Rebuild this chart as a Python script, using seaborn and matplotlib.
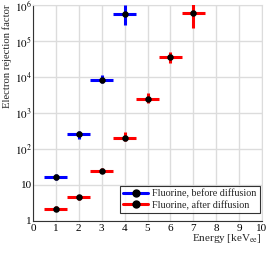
import matplotlib
matplotlib.use("Agg")
import matplotlib.pyplot as plt
import seaborn as sns
import numpy as np
import pandas as pd
from matplotlib.lines import Line2D
from matplotlib.ticker import FixedLocator, LogLocator, NullFormatter, MultipleLocator

# Data
before_energy = [1, 2, 3, 4]
before_value = [17, 255, 8300, 5.6e5]
before_err_low = [3, 60, 1300, 2.9e5]
before_err_high = [3, 65, 3400, 4.4e5]

after_energy = [1, 2, 3, 4, 5, 6, 7]
after_value = [2.15, 4.5, 25, 205, 2450, 35000, 5.9e5]
after_err_low = [0.3, 0.6, 3, 40, 550, 10000, 3.6e5]
after_err_high = [0.4, 0.8, 4, 95, 1050, 16000, 5.5e5]

energy_halfwidth = 0.5
labels = ["Fluorine, before diffusion", "Fluorine, after diffusion"]
colors = ["#0000ff", "#ff0000"]

sns.set_style("white")
plt.rcParams['font.family'] = ['Liberation Serif', 'DejaVu Serif']
plt.rcParams['mathtext.fontset'] = 'stix'

fig = plt.figure(figsize=(2.69, 2.54), dpi=100)
ax = fig.add_axes([33/269, 1 - 221/254, (262 - 33)/269, (221 - 5)/254])

for xs, ys, lo, hi, c in [
    (before_energy, before_value, before_err_low, before_err_high, colors[0]),
    (after_energy, after_value, after_err_low, after_err_high, colors[1]),
]:
    ax.errorbar(xs, ys, xerr=energy_halfwidth, yerr=[lo, hi], fmt='none',
                ecolor=c, elinewidth=2.2, capsize=0, zorder=3)

df = pd.concat([
    pd.DataFrame({"Energy": before_energy, "Value": before_value, "Series": labels[0]}),
    pd.DataFrame({"Energy": after_energy, "Value": after_value, "Series": labels[1]}),
])
sns.scatterplot(data=df, x="Energy", y="Value", color="black", s=22,
                edgecolor="black", linewidth=0, ax=ax, zorder=4, legend=False)

ax.set_yscale("log")
ax.set_xlim(0, 10)
ax.set_ylim(1, 1e6)

ax.set_xticks(range(11))
ax.set_xticklabels([str(i) for i in range(11)])
ax.xaxis.set_minor_locator(MultipleLocator(0.2))
yt = [1, 10, 1e2, 1e3, 1e4, 1e5, 1e6]
ax.yaxis.set_major_locator(FixedLocator(yt))
ax.set_yticklabels(["1", "10", r"$10^2$", r"$10^3$", r"$10^4$", r"$10^5$", r"$10^6$"])
ax.yaxis.set_minor_locator(LogLocator(base=10, subs=np.arange(2, 10), numticks=20))
ax.yaxis.set_minor_formatter(NullFormatter())

ax.tick_params(axis='both', which='major', direction='in', length=5, width=0.8,
               labelsize=8, top=False, right=False, colors='#333333', labelcolor='black')
ax.tick_params(axis='both', which='minor', direction='in', length=2.5, width=0.6,
               top=False, right=False, colors='#333333')
ax.tick_params(axis='x', pad=2)
ax.tick_params(axis='y', pad=1)

ax.grid(True, which='major', color='#dcdcdc', linewidth=1.0)
for s in ax.spines.values():
    s.set_color('#dcdcdc')
ax.spines['left'].set_color('#333333')
ax.spines['bottom'].set_color('#333333')

ax.set_ylabel("Electron rejection factor", fontsize=7.7, loc='top', labelpad=2)
ax.set_xlabel(r"Energy [keV$_{\mathrm{ee}}$]", fontsize=8, loc='right')
ax.xaxis.set_label_coords(1.0, -0.05)

handles = [Line2D([0], [0], color=c, lw=2.2, marker='o', markerfacecolor='black',
                  markeredgecolor='black', markersize=5) for c in colors]
leg = ax.legend(handles, labels, loc='lower right', fontsize=7.3, frameon=True,
                fancybox=False, edgecolor='black', handlelength=2.5,
                handletextpad=0.4, borderpad=0.3, labelspacing=0.2,
                borderaxespad=0, bbox_to_anchor=(0.99, 0.037))
leg.get_frame().set_linewidth(0.8)

fig.savefig("out.png", dpi=100)
